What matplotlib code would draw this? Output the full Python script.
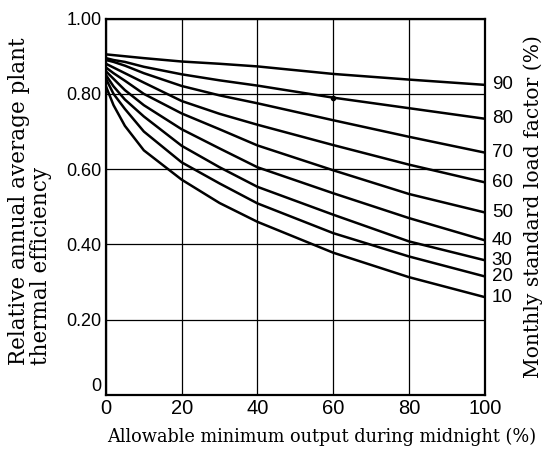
import matplotlib
matplotlib.use("Agg")
import matplotlib.pyplot as plt

# Data
x_output = [0, 2, 5, 10, 20, 30, 40, 60, 80, 100]
load_factors = [90, 80, 70, 60, 50, 40, 30, 20, 10]
eff_90 = [0.905, 0.903, 0.900, 0.895, 0.886, 0.880, 0.873, 0.853, 0.838, 0.824]
eff_80 = [0.895, 0.890, 0.885, 0.872, 0.852, 0.836, 0.822, 0.790, 0.762, 0.734]
eff_70 = [0.890, 0.885, 0.875, 0.855, 0.821, 0.796, 0.775, 0.730, 0.686, 0.644]
eff_60 = [0.880, 0.870, 0.855, 0.830, 0.781, 0.747, 0.718, 0.664, 0.612, 0.565]
eff_50 = [0.870, 0.855, 0.835, 0.800, 0.748, 0.706, 0.663, 0.597, 0.534, 0.485]
eff_40 = [0.860, 0.840, 0.810, 0.770, 0.706, 0.655, 0.605, 0.536, 0.470, 0.411]
eff_30 = [0.850, 0.820, 0.785, 0.740, 0.662, 0.605, 0.553, 0.479, 0.408, 0.358]
eff_20 = [0.840, 0.800, 0.760, 0.700, 0.618, 0.562, 0.509, 0.430, 0.368, 0.315]
eff_10 = [0.820, 0.770, 0.715, 0.650, 0.572, 0.510, 0.460, 0.378, 0.313, 0.260]
series = [eff_90, eff_80, eff_70, eff_60, eff_50, eff_40, eff_30, eff_20, eff_10]

x_ticks = [0, 20, 40, 60, 80, 100]
x_ticklabels = ["0", "20", "40", "60", "80", "100"]
y_ticks = [0, 0.2, 0.4, 0.6, 0.8, 1.0]
y_ticklabels = ["0", "0.20", "0.40", "0.60", "0.80", "1.00"]

num_font = ["Liberation Sans", "DejaVu Sans"]
serif_font = ["DejaVu Serif", "Liberation Serif"]

fig = plt.figure(figsize=(5.49, 4.54), dpi=100)
ax = fig.add_axes([0.193, 0.130, 0.690, 0.829])

for vals in series:
    ax.plot(x_output, vals, color="black", lw=1.8, solid_capstyle="butt",
            solid_joinstyle="round")

# small marked point on the 80% curve at 60%
ax.plot([x_output[7]], [eff_80[7]], "o", color="black", ms=3)

ax.set_xlim(0, 100)
ax.set_ylim(0, 1.0)
ax.set_xticks(x_ticks)
ax.set_xticklabels(x_ticklabels, family=num_font, fontsize=14.5)
ax.set_yticks(y_ticks)
ax.set_yticklabels(y_ticklabels, family=num_font, fontsize=13)
ax.get_yticklabels()[0].set_va("bottom")
ax.tick_params(length=0)
ax.tick_params(axis="x", pad=3)
ax.tick_params(axis="y", pad=3)
ax.grid(True, color="black", lw=0.9)
for s in ax.spines.values():
    s.set_linewidth(1.6)

for lf, vals in zip(load_factors, series):
    ax.annotate(str(lf), xy=(100, vals[-1]), xytext=(5, 0),
                textcoords="offset points", va="center", ha="left",
                family=num_font, fontsize=13.5, annotation_clip=False)

ax.set_xlabel("Allowable minimum output during midnight (%)",
              family=serif_font, fontsize=12.8, va="top")
ax.xaxis.set_label_coords(0.57, -0.088)
ax.set_ylabel("Relative annual average plant\nthermal efficiency",
              family=serif_font, fontsize=15.5, multialignment="left",
              linespacing=1.0)
ax.yaxis.set_label_coords(-0.142, 0.515)

fig.text(0.971, 0.544, "Monthly standard load factor (%)", rotation=90,
         ha="center", va="center", family=serif_font, fontsize=14.6)

fig.savefig("out.png", dpi=100)
